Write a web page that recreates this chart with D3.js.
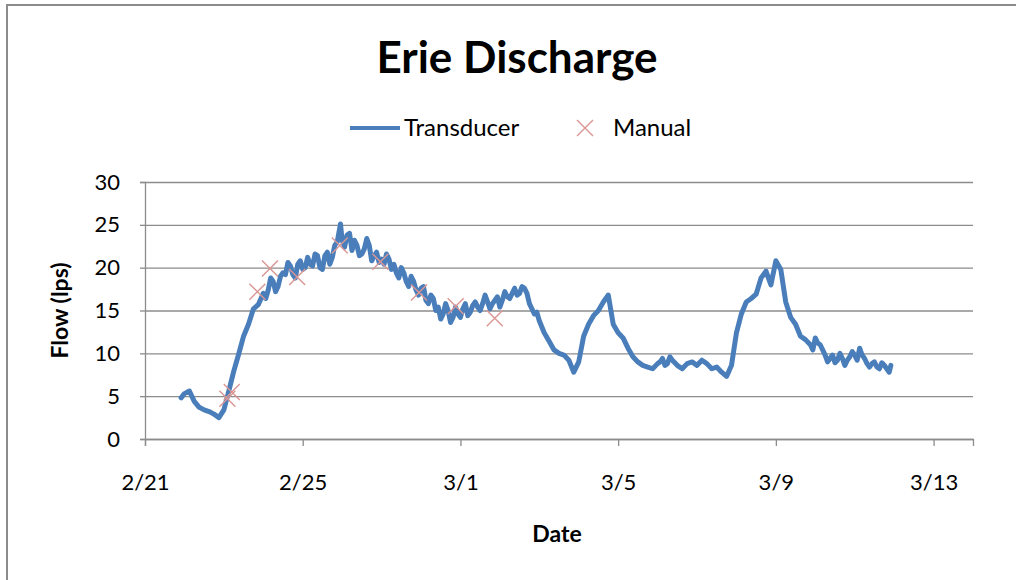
<!DOCTYPE html>
<html>
<head>
<meta charset="utf-8">
<script src="https://cdn.jsdelivr.net/npm/d3@7"></script>
<style>
  html, body { margin: 0; padding: 0; background: #fff; }
  #container { width: 1016px; height: 580px; }
  svg text { font-family: Lato, "Open Sans", sans-serif; fill: #000; }
</style>
</head>
<body>
<div id="container"></div>
<script>
// transducer readings: [time, flow (lps)]
const transducer = [
  ["2/21 22:00", 4.8],
  ["2/22 00:00", 5.3], ["2/22 03:00", 5.6], ["2/22 06:00", 4.4], ["2/22 09:00", 3.7],
  ["2/22 12:00", 3.4], ["2/22 15:00", 3.2], ["2/22 18:00", 2.9], ["2/22 21:00", 2.5],
  ["2/23 00:00", 3.4], ["2/23 03:00", 5.6], ["2/23 06:00", 7.9], ["2/23 09:00", 9.9],
  ["2/23 12:00", 12.0], ["2/23 15:00", 13.4], ["2/23 18:00", 15.2], ["2/23 21:00", 15.7],
  ["2/24 00:00", 17.0], ["2/24 01:30", 16.4], ["2/24 03:00", 17.4], ["2/24 04:30", 18.8],
  ["2/24 06:00", 18.4], ["2/24 07:30", 17.2], ["2/24 09:00", 17.8], ["2/24 10:30", 19.0],
  ["2/24 12:00", 19.4], ["2/24 13:30", 19.2], ["2/24 15:00", 20.6], ["2/24 16:30", 20.2],
  ["2/24 18:00", 19.2], ["2/24 19:30", 18.8], ["2/24 21:00", 20.4], ["2/24 22:30", 20.8],
  ["2/25 00:00", 19.8], ["2/25 01:30", 20.0], ["2/25 03:00", 21.2], ["2/25 04:30", 20.4],
  ["2/25 06:00", 20.2], ["2/25 07:30", 21.6], ["2/25 09:00", 21.4], ["2/25 10:30", 20.0],
  ["2/25 12:00", 19.8], ["2/25 13:30", 21.4], ["2/25 15:00", 21.8], ["2/25 16:30", 20.4],
  ["2/25 18:00", 21.2], ["2/25 19:30", 22.6], ["2/25 21:00", 23.0], ["2/25 23:00", 25.1],
  ["2/26 00:00", 23.2], ["2/26 01:30", 22.4], ["2/26 03:00", 23.8], ["2/26 04:30", 24.0],
  ["2/26 06:00", 22.0], ["2/26 07:30", 23.2], ["2/26 09:00", 22.6], ["2/26 10:30", 21.4],
  ["2/26 12:00", 21.6], ["2/26 13:30", 22.2], ["2/26 15:00", 23.4], ["2/26 16:30", 22.6],
  ["2/26 18:00", 20.8], ["2/26 19:30", 21.4], ["2/26 21:00", 21.8], ["2/26 22:30", 20.6],
  ["2/27 00:00", 21.0], ["2/27 01:30", 20.4], ["2/27 03:00", 21.6], ["2/27 04:30", 21.0],
  ["2/27 06:00", 19.8], ["2/27 07:30", 20.4], ["2/27 09:00", 19.4], ["2/27 10:30", 18.8],
  ["2/27 12:00", 20.0], ["2/27 13:30", 19.4], ["2/27 15:00", 18.4], ["2/27 16:30", 17.8],
  ["2/27 18:00", 19.0], ["2/27 19:30", 18.4], ["2/27 21:00", 17.4], ["2/27 22:30", 16.8],
  ["2/28 00:00", 17.6], ["2/28 01:30", 17.8], ["2/28 03:00", 16.2], ["2/28 04:30", 15.8],
  ["2/28 06:00", 16.8], ["2/28 07:30", 16.4], ["2/28 09:00", 15.0], ["2/28 10:30", 15.4],
  ["2/28 12:00", 14.0], ["2/28 13:30", 14.6], ["2/28 15:00", 15.8], ["2/28 16:30", 15.0],
  ["2/28 18:00", 13.6], ["2/28 19:30", 14.2], ["2/28 21:00", 15.4], ["2/28 22:30", 14.6],
  ["3/1 00:00", 14.2], ["3/1 01:30", 15.2], ["3/1 03:00", 15.8], ["3/1 04:30", 14.4],
  ["3/1 06:00", 14.8], ["3/1 07:30", 15.6], ["3/1 09:00", 16.0], ["3/1 10:30", 15.4],
  ["3/1 12:00", 15.0], ["3/1 13:30", 15.8], ["3/1 15:00", 16.8], ["3/1 16:30", 16.0],
  ["3/1 18:00", 15.2], ["3/1 19:30", 15.8], ["3/1 21:00", 16.2], ["3/1 22:30", 16.6],
  ["3/2 00:00", 15.4], ["3/2 01:30", 16.2], ["3/2 03:00", 17.2], ["3/2 04:30", 16.6],
  ["3/2 06:00", 16.4], ["3/2 07:30", 17.0], ["3/2 09:00", 17.6], ["3/2 10:30", 16.8],
  ["3/2 12:00", 17.0], ["3/2 13:30", 17.8], ["3/2 15:00", 17.6], ["3/2 16:30", 17.0],
  ["3/2 18:00", 15.8], ["3/2 19:30", 15.2], ["3/2 21:00", 14.6], ["3/2 22:30", 14.8],
  ["3/3 00:00", 13.8], ["3/3 03:00", 12.4], ["3/3 06:00", 11.4], ["3/3 09:00", 10.4],
  ["3/3 12:00", 10.0], ["3/3 15:00", 9.8], ["3/3 18:00", 9.2], ["3/3 21:00", 7.8],
  ["3/4 00:00", 9.0], ["3/4 03:00", 12.0], ["3/4 06:00", 13.4], ["3/4 09:00", 14.4],
  ["3/4 12:00", 15.0], ["3/4 15:00", 16.0], ["3/4 18:00", 16.8], ["3/4 21:00", 13.4],
  ["3/5 00:00", 12.4], ["3/5 03:00", 11.8], ["3/5 06:00", 10.6], ["3/5 09:00", 9.6],
  ["3/5 12:00", 9.0], ["3/5 15:00", 8.6], ["3/5 18:00", 8.4], ["3/5 21:00", 8.2],
  ["3/6 00:00", 8.8], ["3/6 01:30", 9.0], ["3/6 03:00", 9.4], ["3/6 04:30", 8.6],
  ["3/6 06:00", 8.8], ["3/6 07:30", 9.6], ["3/6 09:00", 9.2], ["3/6 12:00", 8.6],
  ["3/6 15:00", 8.2], ["3/6 18:00", 8.8], ["3/6 21:00", 9.0],
  ["3/7 00:00", 8.6], ["3/7 03:00", 9.2], ["3/7 06:00", 8.8], ["3/7 09:00", 8.2],
  ["3/7 12:00", 8.4], ["3/7 15:00", 7.8], ["3/7 18:00", 7.3], ["3/7 21:00", 8.6],
  ["3/8 00:00", 12.4], ["3/8 03:00", 14.6], ["3/8 06:00", 16.0], ["3/8 09:00", 16.4],
  ["3/8 12:00", 16.9], ["3/8 15:00", 18.8], ["3/8 18:00", 19.6], ["3/8 21:00", 18.0],
  ["3/9 00:00", 20.8], ["3/9 03:00", 19.8], ["3/9 06:00", 16.0], ["3/9 09:00", 14.2],
  ["3/9 12:00", 13.4], ["3/9 15:00", 12.0], ["3/9 18:00", 11.6], ["3/9 21:00", 11.0],
  ["3/9 22:30", 10.4],
  ["3/10 00:00", 11.8], ["3/10 01:30", 11.2], ["3/10 03:00", 11.0], ["3/10 04:30", 10.4],
  ["3/10 06:00", 9.8], ["3/10 07:30", 9.0], ["3/10 09:00", 9.4], ["3/10 10:30", 9.8],
  ["3/10 12:00", 8.9], ["3/10 13:30", 9.2], ["3/10 15:00", 10.0], ["3/10 16:30", 9.4],
  ["3/10 18:00", 8.6], ["3/10 19:30", 9.2], ["3/10 21:00", 9.6], ["3/10 22:30", 10.2],
  ["3/11 00:00", 9.8], ["3/11 01:30", 9.2], ["3/11 03:00", 10.6], ["3/11 04:30", 9.8],
  ["3/11 06:00", 9.4], ["3/11 07:30", 8.8], ["3/11 09:00", 8.4], ["3/11 10:30", 8.8],
  ["3/11 12:00", 9.0], ["3/11 13:30", 8.4], ["3/11 15:00", 8.2], ["3/11 16:30", 8.9],
  ["3/11 18:00", 8.6], ["3/11 19:30", 8.2], ["3/11 21:00", 7.8], ["3/11 22:00", 8.6]
];

// manual measurements: [time, flow (lps)]
const manual = [
  ["2/23 02:10", 4.7], ["2/23 04:48", 5.5], ["2/23 20:24", 17.2], ["2/24 04:05", 19.9],
  ["2/24 20:38", 18.9], ["2/25 22:34", 22.6], ["2/26 23:17", 20.7], ["2/27 22:48", 17.1],
  ["2/28 21:07", 15.5], ["3/1 20:53", 14.1]
];

const yTicks = [0, 5, 10, 15, 20, 25, 30];
const xTicks = ["2/21", "2/25", "3/1", "3/5", "3/9", "3/13"];
const xDomain = ["2/21", "3/14"];

const width = 1016;
const height = 580;
const marginTop = 182;
const marginRight = 43;
const marginBottom = 141;
const marginLeft = 145;

const parseTime = d3.timeParse("%m/%d %H:%M");
const parseDay = d3.timeParse("%m/%d");

const series = transducer.map(([t, v]) => ({ date: parseTime(t), flow: v }));
const points = manual.map(([t, v]) => ({ date: parseTime(t), flow: v }));

const svg = d3.select("#container")
  .append("svg")
  .attr("width", width)
  .attr("height", height)
  .attr("viewBox", [0, 0, width, height]);

// outer chart frame
svg.append("rect")
  .attr("x", 7)
  .attr("y", 5)
  .attr("width", width + 20)
  .attr("height", height + 20)
  .attr("fill", "#fff")
  .attr("stroke", "#8c8c8c")
  .attr("stroke-width", 2);

const x = d3.scaleTime()
  .domain(xDomain.map(parseDay))
  .range([marginLeft, width - marginRight]);

const y = d3.scaleLinear()
  .domain([0, 30])
  .range([height - marginBottom, marginTop]);

const gridColor = "#8c8c8c";

// horizontal gridlines + y axis labels
svg.append("g")
  .attr("transform", `translate(${marginLeft},0)`)
  .call(d3.axisLeft(y).tickValues(yTicks).tickSize(5).tickPadding(20).tickFormat(d3.format("d")))
  .call(g => g.select(".domain").attr("stroke", gridColor).attr("stroke-width", 1.3))
  .call(g => g.selectAll(".tick line").attr("stroke", gridColor).attr("stroke-width", 1.3))
  .call(g => g.selectAll(".tick line").clone()
    .attr("x1", 0)
    .attr("x2", width - marginRight - marginLeft))
  .call(g => g.selectAll(".tick text").attr("font-size", 22));

// x axis
svg.append("g")
  .attr("transform", `translate(0,${height - marginBottom})`)
  .call(d3.axisBottom(x)
    .tickValues(xTicks.map(parseDay))
    .tickSize(7)
    .tickPadding(28)
    .tickFormat(d3.timeFormat("%-m/%-d")))
  .call(g => g.select(".domain").attr("stroke", gridColor).attr("stroke-width", 1.3))
  .call(g => g.selectAll(".tick line").attr("stroke", gridColor).attr("stroke-width", 1.3))
  .call(g => g.selectAll(".tick text").attr("font-size", 22));

// transducer line
const line = d3.line()
  .x(d => x(d.date))
  .y(d => y(d.flow));

svg.append("path")
  .datum(series)
  .attr("fill", "none")
  .attr("stroke", "#4a7ebb")
  .attr("stroke-width", 5)
  .attr("stroke-linejoin", "round")
  .attr("stroke-linecap", "round")
  .attr("d", line);

// manual markers (x shape)
const cross = 8;
const manualColor = "#d99694";
svg.append("g")
  .attr("stroke", manualColor)
  .attr("stroke-width", 1.4)
  .attr("fill", "none")
  .selectAll("path")
  .data(points)
  .join("path")
  .attr("transform", d => `translate(${x(d.date)},${y(d.flow)})`)
  .attr("d", `M${-cross},${-cross}L${cross},${cross}M${-cross},${cross}L${cross},${-cross}`);

// title
svg.append("text")
  .attr("x", 517)
  .attr("y", 73)
  .attr("text-anchor", "middle")
  .attr("font-size", 44)
  .attr("font-weight", "bold")
  .text("Erie Discharge");

// legend
const legend = svg.append("g").attr("transform", "translate(350,128)");
legend.append("line")
  .attr("x1", 0).attr("x2", 50)
  .attr("stroke", "#4a7ebb")
  .attr("stroke-width", 4);
legend.append("text")
  .attr("x", 54)
  .attr("dy", "0.35em")
  .attr("font-size", 24)
  .text("Transducer");
legend.append("path")
  .attr("transform", "translate(235,0)")
  .attr("stroke", manualColor)
  .attr("stroke-width", 1.4)
  .attr("d", `M${-cross},${-cross}L${cross},${cross}M${-cross},${cross}L${cross},${-cross}`);
legend.append("text")
  .attr("x", 263)
  .attr("dy", "0.35em")
  .attr("font-size", 24)
  .text("Manual");

// axis titles
svg.append("text")
  .attr("transform", `translate(68,${(marginTop + height - marginBottom) / 2}) rotate(-90)`)
  .attr("text-anchor", "middle")
  .attr("font-size", 23)
  .attr("font-weight", "bold")
  .text("Flow (lps)");

svg.append("text")
  .attr("x", (marginLeft + width - marginRight) / 2 - 2)
  .attr("y", 542)
  .attr("text-anchor", "middle")
  .attr("font-size", 23)
  .attr("font-weight", "bold")
  .text("Date");
</script>
</body>
</html>
